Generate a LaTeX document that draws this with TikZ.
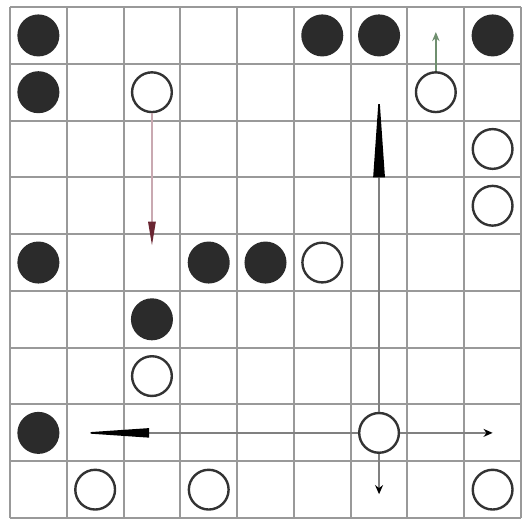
\documentclass[tikz,border=0pt]{standalone}
\usepackage{tikz}
\usetikzlibrary{arrows.meta}
\definecolor{stoneblack}{HTML}{2B2B2B}
\definecolor{mossgreen}{HTML}{6F8F6F}
\definecolor{pinkline}{HTML}{C9A9B1}
\definecolor{darkred}{HTML}{6A2632}

\begin{document}
\begin{tikzpicture}[>=stealth,
    blackstone/.style={circle,fill=stoneblack,minimum size=0.74cm,inner sep=0pt},
    whitestone/.style={circle,draw=black!80,fill=white,line width=1.2pt,minimum size=0.7cm,inner sep=0pt},
    move/.style={draw=black!50,line width=0.8pt}]
    \useasboundingbox (-0.176,-0.14) rectangle (9.0,9.124);
    \draw[black!40,line width=1pt] (0,0) grid (9,9);
    % stones
    \foreach \c/\r in {0/0,5/0,6/0,8/0,0/1,0/4,3/4,4/4,2/5,0/7}
        \node[blackstone] (b\c\r) at (\c+0.5,8.5-\r) {};
    \foreach \c/\r in {2/1,7/1,8/2,8/3,5/4,2/6,6/7,1/8,3/8,8/8}
        \node[whitestone] (w\c\r) at (\c+0.5,8.5-\r) {};
    % ends of the moves
    \coordinate (green end) at (7.5,8.56);
    \coordinate (red end) at (2.5,4.8);
    \coordinate (up end) at (6.5,7.5);
    \coordinate (left end) at (1.2,1.5);
    \coordinate (right end) at (8.5,1.5);
    \coordinate (down end) at (6.5,0.42);
    \draw[move,draw=mossgreen,-{Stealth[length=0.16cm,width=0.13cm]}] (w71) -- (green end);
    \draw[move,draw=pinkline,-{Triangle[length=0.42cm,width=0.13cm,color=darkred,fill=darkred]}] (w21) -- (red end);
    \draw[move,-{Triangle[length=1.5cm,width=0.2cm,color=black,fill=black]}] (w67) -- (up end);
    \draw[move,-{Triangle[length=1.25cm,width=0.16cm,color=black,fill=black]}] (w67) -- (left end);
    \draw[move,-{Stealth[length=0.16cm,width=0.14cm,color=black,fill=black]}] (w67) -- (right end);
    \draw[move,-{Stealth[length=0.16cm,width=0.14cm,color=black,fill=black]}] (w67) -- (down end);
\end{tikzpicture}
\end{document}
